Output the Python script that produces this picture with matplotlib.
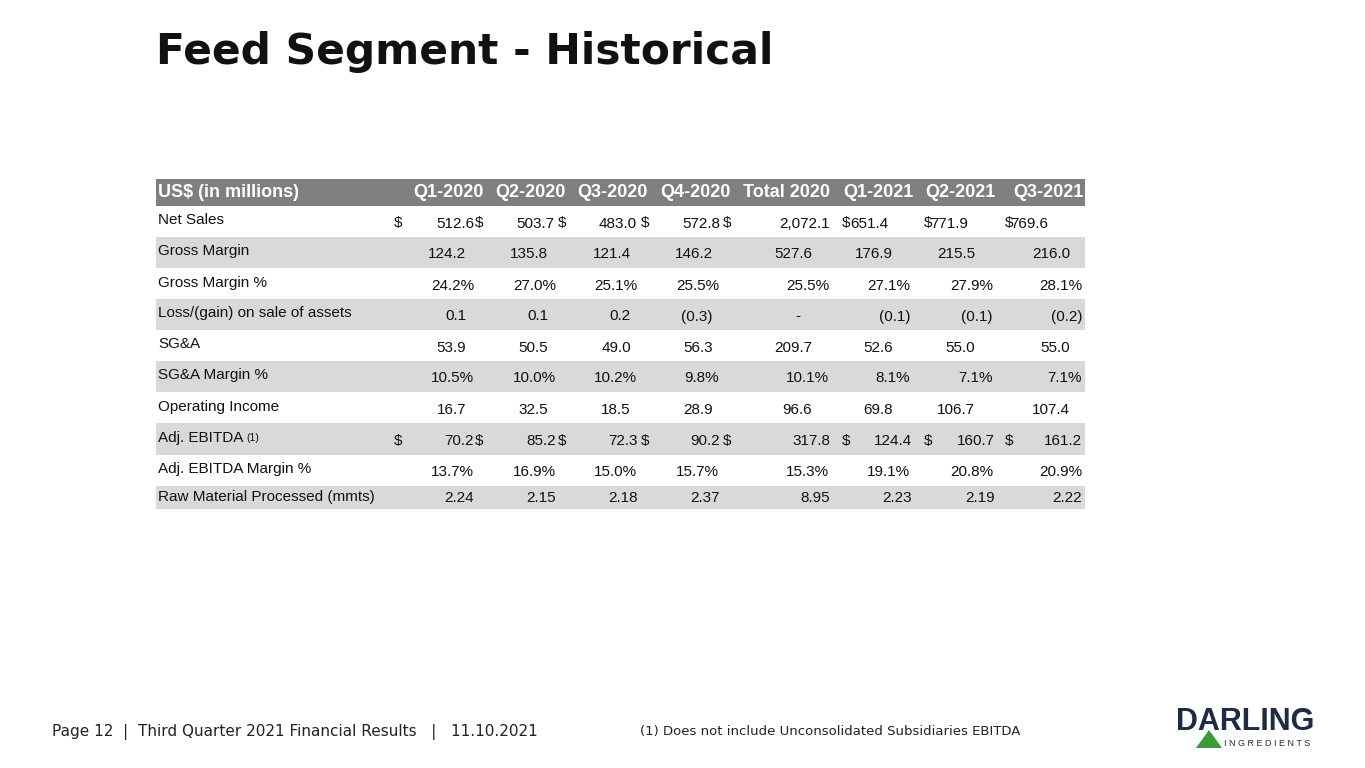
import matplotlib.pyplot as plt
from matplotlib.patches import Rectangle, Polygon

headers = ["Q1-2020", "Q2-2020", "Q3-2020", "Q4-2020", "Total 2020", "Q1-2021", "Q2-2021", "Q3-2021"]
row_labels = ["Net Sales", "Gross Margin", "Gross Margin %", "Loss/(gain) on sale of assets", "SG&A",
              "SG&A Margin %", "Operating Income", "Adj. EBITDA", "Adj. EBITDA Margin %",
              "Raw Material Processed (mmts)"]
values = [
    ["512.6", "503.7", "483.0", "572.8", "2,072.1", "651.4", "771.9", "769.6"],
    ["124.2", "135.8", "121.4", "146.2", "527.6", "176.9", "215.5", "216.0"],
    ["24.2%", "27.0%", "25.1%", "25.5%", "25.5%", "27.1%", "27.9%", "28.1%"],
    ["0.1", "0.1", "0.2", "(0.3)", "-", "(0.1)", "(0.1)", "(0.2)"],
    ["53.9", "50.5", "49.0", "56.3", "209.7", "52.6", "55.0", "55.0"],
    ["10.5%", "10.0%", "10.2%", "9.8%", "10.1%", "8.1%", "7.1%", "7.1%"],
    ["16.7", "32.5", "18.5", "28.9", "96.6", "69.8", "106.7", "107.4"],
    ["70.2", "85.2", "72.3", "90.2", "317.8", "124.4", "160.7", "161.2"],
    ["13.7%", "16.9%", "15.0%", "15.7%", "15.3%", "19.1%", "20.8%", "20.9%"],
    ["2.24", "2.15", "2.18", "2.37", "8.95", "2.23", "2.19", "2.22"],
]
dollar_rows = [0, 7]

# right edges of the value text, per row style (pixels)
pct_edges = [474, 556, 637, 719, 829, 910, 993, 1082]
num_edges = [466, 548, 631, 713, 812, 893, 975, 1070]
wide_edges = [474, 556, 638, 720, 830, 912, 995, 1082]
sales_edges = [474, 554, 637, 720, 830, 888, 968, 1048]
paren_edges = [466, 548, 631, 713, 800, 910, 993, 1083]
row_edges = [sales_edges, num_edges, pct_edges, paren_edges, num_edges,
             pct_edges, num_edges, wide_edges, pct_edges, wide_edges]

plt.rcParams['font.family'] = ['Liberation Sans', 'DejaVu Sans']
fig = plt.figure(figsize=(13.65, 7.68), dpi=100)
ax = fig.add_axes([0, 0, 1, 1])
ax.set_xlim(0, 1365)
ax.set_ylim(768, 0)
ax.axis('off')

ax.text(156, 52, "Feed Segment - Historical", fontsize=30.5, fontweight='bold', color='#111111', va='center',
        family=['DejaVu Sans'])

col_right = [484, 566, 648, 731, 830, 913, 996, 1083]
dollar_x = [402, 483, 566, 649, 731, 850, 932, 1013]
left, right = 156, 1085
narrow = ['Liberation Sans Narrow', 'Liberation Sans']

ax.add_patch(Rectangle((left, 179), right - left, 27, color='#7f7f7f', lw=0))
ax.text(left + 2, 192.5, "US$ (in millions)", color='white', fontsize=13, fontweight='bold', va='center',
        family=narrow)
for h, xr in zip(headers, col_right):
    ax.text(xr, 192.5, h, color='white', fontsize=13, fontweight='bold', va='center', ha='right', family=narrow)

bands = [206, 237, 268, 299, 330, 361, 392, 423, 455, 486, 509]
for i, lab in enumerate(row_labels):
    y0, y1 = bands[i], bands[i + 1]
    if i % 2 == 1:
        ax.add_patch(Rectangle((left, y0), right - left, y1 - y0, color='#d9d9d9', lw=0))
    yc = (y0 + y1) / 2 + (2 if i < 9 else 0)
    ax.text(left + 2, yc - 3 if i < 9 else yc, lab, fontsize=11, va='center', color='#111111')
    if i == 7:
        ax.text(left + 90, yc - 3, "(1)", fontsize=7.5, va='center', color='#111111')
    for j, v in enumerate(values[i]):
        ax.text(row_edges[i][j], yc, v, fontsize=11, va='center', ha='right', color='#111111')
        if i in dollar_rows:
            ax.text(dollar_x[j], yc, "$", fontsize=11, va='center', ha='right', color='#111111')

ax.text(52, 732, "Page 12  |  Third Quarter 2021 Financial Results   |   11.10.2021", fontsize=11,
        va='center', color='#222222', family=['DejaVu Sans'])
ax.text(640, 731, "(1) Does not include Unconsolidated Subsidiaries EBITDA", fontsize=9.5,
        va='center', color='#222222', family=['DejaVu Sans'])

ax.text(1176, 722, "DARLING", fontsize=22, fontweight='bold', color='#1f2a44', va='center')
ax.text(1224, 743, "I N G R E D I E N T S", fontsize=6.5, color='#1f2a44', va='center')
ax.add_patch(Polygon([[1196, 748], [1209, 730], [1222, 748]], closed=True, color='#3a9a3a', lw=0))

fig.savefig("out.png", dpi=100)
